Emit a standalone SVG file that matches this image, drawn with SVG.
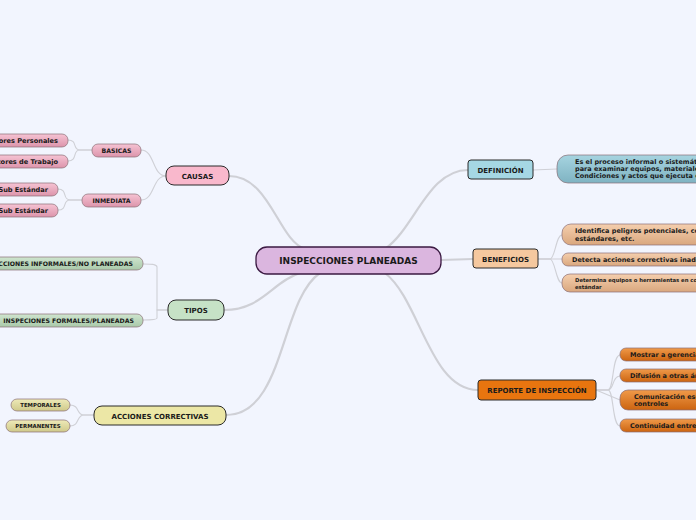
<svg xmlns="http://www.w3.org/2000/svg" width="696" height="520" viewBox="0 0 696 520">
<defs>
<linearGradient id="gPink" x1="0" y1="0" x2="0" y2="1"><stop offset="0" stop-color="#f6c3d3"/><stop offset="1" stop-color="#dc94ab"/></linearGradient>
<linearGradient id="gGreen" x1="0" y1="0" x2="0" y2="1"><stop offset="0" stop-color="#cfe5cf"/><stop offset="1" stop-color="#a9c9a9"/></linearGradient>
<linearGradient id="gYellow" x1="0" y1="0" x2="0" y2="1"><stop offset="0" stop-color="#eeeab8"/><stop offset="1" stop-color="#cfc98a"/></linearGradient>
<linearGradient id="gBlue" x1="0" y1="0" x2="0" y2="1"><stop offset="0" stop-color="#a6d4e0"/><stop offset="1" stop-color="#7fb3c2"/></linearGradient>
<linearGradient id="gPeach" x1="0" y1="0" x2="0" y2="1"><stop offset="0" stop-color="#f5cfae"/><stop offset="1" stop-color="#d9a77e"/></linearGradient>
<linearGradient id="gOrange" x1="0" y1="0" x2="0" y2="1"><stop offset="0" stop-color="#f09a4a"/><stop offset="1" stop-color="#cc6410"/></linearGradient>
</defs>
<style>
text{font-family:"DejaVu Sans",Verdana,sans-serif;font-weight:bold;fill:#1a1a1a}
.main{font-size:7px;text-anchor:middle}
.sub{font-size:6.2px;text-anchor:middle}
.subr{font-size:6.2px;text-anchor:end}
.leaf{font-size:6.5px}
.leafr{font-size:6.6px;text-anchor:end}
.tiny{font-size:5.3px}
.tinyc{font-size:5.4px;text-anchor:middle}
.big{stroke:#2a2a2a;stroke-width:1}
.small{stroke:#8a6f75;stroke-width:0.7}
.conn path{fill:none;stroke:#cfd0d6;stroke-linecap:round}
.thick{stroke-width:2.2}
.thin{stroke-width:1.1}
</style>
<rect width="696" height="520" fill="#f2f5fe"/>
<g class="conn">
<path class="thick" d="M229,176 C270,176 278,240 305,249"/>
<path class="thick" d="M224,310 C262,310 272,282 300,273"/>
<path class="thick" d="M226,415 C285,415 280,300 320,273"/>
<path class="thick" d="M468,170 C428,170 415,228 385,249"/>
<path class="thick" d="M441,260 L473,259"/>
<path class="thick" d="M478,390 C430,390 420,300 385,273"/>
<path class="thin" d="M166,176 C152,176 155,150 141,150"/>
<path class="thin" d="M166,176 C152,176 155,200 141,200"/>
<path class="thin" d="M92,150 L80,150 C72,150 78,140 68,140"/>
<path class="thin" d="M92,150 L80,150 C72,150 78,161 68,161"/>
<path class="thin" d="M82,200 L70,200 C62,200 68,189 58,189"/>
<path class="thin" d="M82,200 L70,200 C62,200 68,210 58,210"/>
<path class="thin" d="M168,310 L157,310 L157,267 C157,264 150,264 143,264"/>
<path class="thin" d="M168,310 L157,310 L157,318 C157,320 150,320 143,320"/>
<path class="thin" d="M94,415 L84,415 C76,415 80,405 70,405"/>
<path class="thin" d="M94,415 L84,415 C76,415 80,426 70,426"/>
<path class="thin" d="M533,170 L557,169"/>
<path class="thin" d="M538,259 L550,259 C555,259 556,235 562,235"/>
<path class="thin" d="M538,259 L562,259"/>
<path class="thin" d="M538,259 L550,259 C555,259 556,283 562,283"/>
<path class="thin" d="M596,390 L608,390 C614,390 612,355 620,355"/>
<path class="thin" d="M596,390 L608,390 C614,390 612,376 620,376"/>
<path class="thin" d="M596,390 L620,400"/>
<path class="thin" d="M596,390 L608,390 C614,390 612,426 620,426"/>
</g>
<g id="central"><rect x="256" y="247" width="185" height="27" rx="11" fill="#dbb6df" stroke="#3b1a42" stroke-width="1.3"/><text x="348.5" y="264" text-anchor="middle" style="font-size:9px">INSPECCIONES PLANEADAS</text></g>
<g id="causas"><rect x="166" y="166" width="63" height="19" rx="8" fill="#f9b8cc" class="big"/><text class="main" x="197.5" y="178.5">CAUSAS</text></g>
<g id="basicas"><rect x="92" y="144" width="49" height="13" rx="6" fill="url(#gPink)" class="small"/><text class="sub" x="116.5" y="152.7">BASICAS</text></g>
<g id="inmediata"><rect x="82" y="194" width="59" height="13" rx="6" fill="url(#gPink)" class="small"/><text class="sub" x="111.5" y="202.7">INMEDIATA</text></g>
<g id="fpersonales"><rect x="-40" y="134" width="108" height="13" rx="6" fill="url(#gPink)" class="small"/><text class="leafr" x="58" y="142.7">Factores Personales</text></g>
<g id="ftrabajo"><rect x="-40" y="155" width="108" height="13" rx="6" fill="url(#gPink)" class="small"/><text class="leafr" x="58" y="163.7">Factores de Trabajo</text></g>
<g id="acto"><rect x="-40" y="183" width="98" height="13" rx="6" fill="url(#gPink)" class="small"/><text class="leafr" x="48" y="191.7">Acto Sub Estándar</text></g>
<g id="condicion"><rect x="-40" y="204" width="98" height="13" rx="6" fill="url(#gPink)" class="small"/><text class="leafr" x="48" y="212.7">Condición Sub Estándar</text></g>
<g id="tipos"><rect x="168" y="300" width="56" height="20" rx="8" fill="#c6e2c6" class="big"/><text class="main" x="196" y="312.5">TIPOS</text></g>
<g id="informales"><rect x="-40" y="257" width="183" height="13" rx="6" fill="url(#gGreen)" class="small"/><text class="subr" x="133" y="265.7">INSPECCIONES INFORMALES/NO PLANEADAS</text></g>
<g id="formales"><rect x="-40" y="314" width="183" height="13" rx="6" fill="url(#gGreen)" class="small"/><text class="subr" x="134" y="322.7">INSPECIONES FORMALES/PLANEADAS</text></g>
<g id="acciones"><rect x="94" y="406" width="132" height="19" rx="8" fill="#ece7a6" class="big"/><text class="main" x="160" y="418.5">ACCIONES CORRECTIVAS</text></g>
<g id="temporales"><rect x="11" y="399" width="59" height="12" rx="6" fill="url(#gYellow)" class="small"/><text class="tinyc" x="40.5" y="407.2">TEMPORALES</text></g>
<g id="permanentes"><rect x="6" y="420" width="64" height="12" rx="6" fill="url(#gYellow)" class="small"/><text class="tinyc" x="38" y="428.2">PERMANENTES</text></g>
<g id="definicion"><rect x="468" y="160" width="65" height="19" rx="3" fill="#a5d7e4" class="big"/><text class="main" x="500.5" y="172.5">DEFINICIÓN</text></g>
<g id="def-texto"><rect x="557" y="155" width="180" height="28" rx="11" fill="url(#gBlue)" class="small"/><text class="leaf" x="575" y="164">Es el proceso informal o sistemático</text><text class="leaf" x="575" y="171">para examinar  equipos, materiales,</text><text class="leaf" x="575" y="178">Condiciones y actos que ejecuta el  personal</text></g>
<g id="beneficios"><rect x="473" y="249" width="65" height="19" rx="3" fill="#f5c89f" class="big"/><text class="main" x="505.5" y="261.5">BENEFICIOS</text></g>
<g id="identifica"><rect x="562" y="224" width="180" height="21" rx="9" fill="url(#gPeach)" class="small"/><text class="leaf" x="575" y="233">Identifica peligros potenciales, condiciones</text><text class="leaf" x="575" y="241">estándares, etc.</text></g>
<g id="detecta"><rect x="562" y="253" width="180" height="13" rx="6" fill="url(#gPeach)" class="small"/><text class="leaf" x="572" y="261.7">Detecta acciones correctivas inadecuadas</text></g>
<g id="determina"><rect x="562" y="274" width="180" height="18" rx="8" fill="url(#gPeach)" class="small"/><text class="tiny" x="575" y="282">Determina equipos o herramientas en condición sub</text><text class="tiny" x="575" y="288.5">estándar</text></g>
<g id="reporte"><rect x="478" y="380" width="118" height="20" rx="3" fill="#e8750f" class="big"/><text class="main" x="537" y="392.5">REPORTE DE INSPECCIÓN</text></g>
<g id="mostrar"><rect x="620" y="348" width="120" height="13" rx="6" fill="url(#gOrange)" class="small"/><text class="leaf" x="630" y="356.7">Mostrar a gerencia</text></g>
<g id="difusion"><rect x="620" y="369" width="120" height="13" rx="6" fill="url(#gOrange)" class="small"/><text class="leaf" x="630" y="377.7">Difusión a otras áreas</text></g>
<g id="comunicacion"><rect x="620" y="390" width="120" height="20" rx="8" fill="url(#gOrange)" class="small"/><text class="leaf" x="634" y="398.5">Comunicación escrita de</text><text class="leaf" x="634" y="406">controles</text></g>
<g id="continuidad"><rect x="620" y="419" width="120" height="13" rx="6" fill="url(#gOrange)" class="small"/><text class="leaf" x="630" y="427.7">Continuidad entre las inspecciones</text></g>
</svg>
